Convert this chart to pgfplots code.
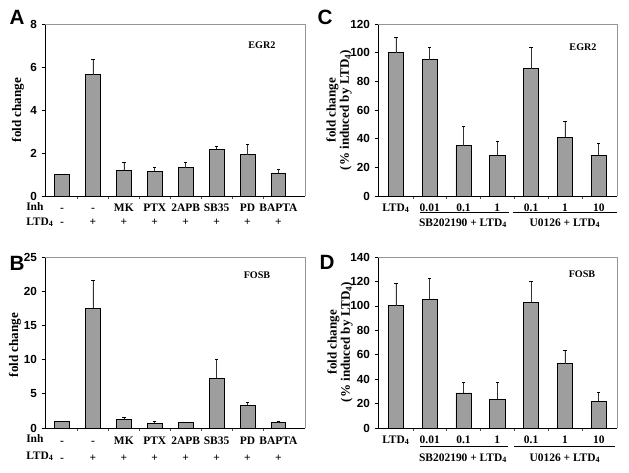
\documentclass[border=0pt]{standalone}
\usepackage{fontspec}
\setmainfont{Liberation Serif}
\newfontfamily\arialf{Liberation Sans}
\usepackage{pgfplots}
\pgfplotsset{compat=1.18}
\usepackage{pgfplotstable}

\definecolor{barfill}{RGB}{158,158,158}
\definecolor{boxgray}{RGB}{150,150,150}

\pgfplotstableread{
x y e
0 1.00 0.00
1 5.65 0.70
2 1.20 0.38
3 1.14 0.17
4 1.32 0.25
5 2.17 0.12
6 1.92 0.50
7 1.06 0.16
}\dataA

\pgfplotstableread{
x y e
0 1.00 0.00
1 17.5 4.10
2 1.25 0.37
3 0.70 0.32
4 0.80 0.07
5 7.30 2.70
6 3.35 0.35
7 0.82 0.10
}\dataB

\pgfplotstableread{
x y e
0 100.0 10.5
1 95.0 8.8
2 35.0 13.6
3 28.5 9.7
4 88.7 15.1
5 41.0 10.7
6 28.5 7.9
}\dataC

\pgfplotstableread{
x y e
0 100.0 18.0
1 105.5 17.0
2 28.7 8.7
3 23.5 13.9
4 103.0 17.3
5 52.7 11.2
6 21.8 7.5
}\dataD

\newcommand{\tl}[2]{\strut #1\\\strut #2}
\newcommand{\LTD}{LTD\textsubscript{4}}

\pgfplotsset{
  panel/.style={
    scale only axis,
    axis x line*=bottom, axis y line*=left,
    axis line style={black, line width=0.6pt},
    ymin=0,
    enlargelimits=false,
    tick align=outside,
    ytick style={black, line width=0.5pt},
    major tick length=2.5pt,
    minor tick length=2pt,
    xtick=data,
    major x tick style={draw=none},
    minor x tick style={black!70, line width=0.4pt},
    /pgf/number format/assume math mode=true,
    yticklabel style={font=\arialf\bfseries\fontsize{8.8}{10}\selectfont},
    xticklabel style={font=\bfseries\fontsize{8.6}{11}\selectfont, align=center, yshift=2.3pt},
    ybar,
    clip=false,
  },
  bars/.style={fill=barfill, draw=black, line width=0.6pt,
    error bars/.cd, y dir=plus, y explicit,
    error bar style={line width=0.5pt, black!80},
    error mark options={rotate=90, mark size=1.3pt, line width=0.6pt, black}},
}

\begin{document}
\begin{tikzpicture}
\path[use as bounding box] (0,0) rectangle (471.75pt,-354.75pt);

% ---------- A ----------
\begin{axis}[panel, at={(33.75pt,-147pt)}, anchor=south west,
  width=195pt, height=129pt,
  xmin=-0.55, xmax=7.86, ymax=8, ytick={0,2,...,8},
  bar width=0.48,
  minor xtick={0.5,1.5,...,6.5},
  xticklabels={\tl{-}{-},\tl{-}{+},\tl{MK}{+},\tl{PTX}{+},\tl{2APB}{+},\tl{SB35}{+},\tl{PD}{+},\tl{BAPTA}{+}},
]
\addplot[bars] table[x=x,y=y,y error=e] {\dataA};
\draw[boxgray, line width=0.6pt] (rel axis cs:0,1) -- (rel axis cs:1,1) -- (rel axis cs:1,0);
\end{axis}

% ---------- B ----------
\begin{axis}[panel, at={(33.75pt,-321pt)}, anchor=south west,
  width=195pt, height=128.25pt,
  xmin=-0.55, xmax=7.86, ymax=25, ytick={0,5,...,25},
  bar width=0.48,
  minor xtick={0.5,1.5,...,6.5},
  xticklabel style={font=\bfseries\fontsize{8.6}{12.5}\selectfont},
  xticklabels={\tl{-}{-},\tl{-}{+},\tl{MK}{+},\tl{PTX}{+},\tl{2APB}{+},\tl{SB35}{+},\tl{PD}{+},\tl{BAPTA}{+}},
]
\addplot[bars] table[x=x,y=y,y error=e] {\dataB};
\draw[boxgray, line width=0.6pt] (rel axis cs:0,1) -- (rel axis cs:1,1) -- (rel axis cs:1,0);
\end{axis}

% ---------- C ----------
\begin{axis}[panel, at={(283.5pt,-147pt)}, anchor=south west,
  width=179.25pt, height=129pt,
  xmin=-0.53, xmax=6.54, ymax=120, ytick={0,20,...,120},
  bar width=0.45,
  minor xtick={0.5,1.5,...,5.5},
  xticklabels={\strut\LTD,\strut 0.01,\strut 0.1,\strut 1,\strut 0.1,\strut 1,\strut 10},
]
\addplot[bars] table[x=x,y=y,y error=e] {\dataC};
\draw[boxgray, line width=0.6pt] (rel axis cs:0,1) -- (rel axis cs:1,1) -- (rel axis cs:1,0);
\end{axis}

% ---------- D ----------
\begin{axis}[panel, at={(283.5pt,-321pt)}, anchor=south west,
  width=179.25pt, height=128.25pt,
  xmin=-0.53, xmax=6.54, ymax=140, ytick={0,20,...,140},
  bar width=0.45,
  minor xtick={0.5,1.5,...,5.5},
  xticklabels={\strut\LTD,\strut 0.01,\strut 0.1,\strut 1,\strut 0.1,\strut 1,\strut 10},
]
\addplot[bars] table[x=x,y=y,y error=e] {\dataD};
\draw[boxgray, line width=0.6pt] (rel axis cs:0,1) -- (rel axis cs:1,1) -- (rel axis cs:1,0);
\end{axis}

% ---------- annotations (pixel coordinates) ----------
\begin{scope}[x=0.75pt, y=-0.75pt]
  \tikzset{lab/.style={font=\bfseries\fontsize{8.6}{11}\selectfont, inner sep=0pt},
           ylab/.style={font=\bfseries\fontsize{9.8}{8}\selectfont, rotate=90, align=center, inner sep=0pt},
           letter/.style={font=\arialf\bfseries\fontsize{15.5}{16}\selectfont, inner sep=0pt},
           gene/.style={font=\bfseries\fontsize{7.6}{9}\selectfont, inner sep=0pt}}
  % panel letters
  \node[letter] at (17,17) {A};
  \node[letter] at (17,263) {B};
  \node[letter] at (325,17) {C};
  \node[letter] at (327,262) {D};
  % gene names
  \node[gene] at (262,45) {EGR2};
  \node[gene] at (257,275) {FOSB};
  \node[gene] at (583,47) {EGR2};
  \node[gene] at (582,274) {FOSB};
  % y labels
  \node[ylab] at (18,110) {fold change};
  \node[ylab] at (15,345) {fold change};
  \node[ylab] at (339,110) {fold change\\(\% induced by \LTD)};
  \node[ylab] at (340,342) {fold change\\(\% induced by \LTD)};
  % row labels A/B
  \node[lab, anchor=west] at (26,207) {Inh};
  \node[lab, anchor=west] at (26,222) {\LTD};
  \node[lab, anchor=west] at (26,439) {Inh};
  \node[lab, anchor=west] at (26,456) {\LTD};
  % group underlines C/D
  \draw[black, line width=0.6pt] (420,212) -- (509,212);
  \draw[black, line width=0.6pt] (513,212) -- (617,212);
  \node[lab] at (463,223) {SB202190 + \LTD};
  \node[lab] at (565,223) {U0126 + \LTD};
  \draw[black, line width=0.6pt] (420,446) -- (508,446);
  \draw[black, line width=0.6pt] (514,446) -- (615,446);
  \node[lab] at (463,458) {SB202190 + \LTD};
  \node[lab] at (565,458) {U0126 + \LTD};
\end{scope}
\end{tikzpicture}
\end{document}
